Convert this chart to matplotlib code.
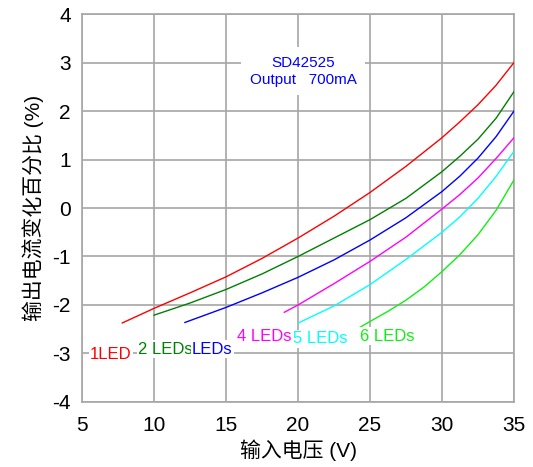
import matplotlib
matplotlib.use("Agg")
import matplotlib.pyplot as plt

plt.rcParams['font.family'] = ['Liberation Sans', 'Noto Sans CJK SC', 'DejaVu Sans']
plt.rcParams['axes.unicode_minus'] = False

# curves (input voltage V, output current change %)
x1 = [7.8, 10, 12.5, 15, 17.5, 20, 22.5, 25, 27.5, 30, 31.25, 32.5, 33.75, 35]
y1 = [-2.37, -2.07, -1.75, -1.42, -1.04, -0.62, -0.17, 0.32, 0.86, 1.45, 1.78, 2.13, 2.53, 3.0]

x2 = [10, 12.5, 15, 17.5, 20, 22.5, 25, 27.5, 30, 31.25, 32.5, 33.75, 35]
y2 = [-2.21, -1.96, -1.68, -1.36, -1.0, -0.62, -0.24, 0.2, 0.75, 1.07, 1.42, 1.85, 2.4]

x3 = [12.15, 15, 17.5, 20, 22.5, 25, 27.5, 30, 31.25, 32.5, 33.75, 35]
y3 = [-2.36, -2.05, -1.75, -1.43, -1.07, -0.66, -0.2, 0.34, 0.66, 1.03, 1.47, 2.0]

x4 = [19.05, 20, 22.5, 25, 27.5, 30, 31.25, 32.5, 33.75, 35]
y4 = [-2.15, -2.0, -1.56, -1.1, -0.6, -0.02, 0.28, 0.62, 1.02, 1.45]

x5 = [20.03, 22.5, 25, 27.5, 30, 31.25, 32.5, 33.75, 35]
y5 = [-2.37, -2.02, -1.58, -1.06, -0.5, -0.18, 0.2, 0.65, 1.17]

x6 = [24.3, 25, 26.25, 27.5, 28.75, 30, 31.25, 32.5, 33.75, 35]
y6 = [-2.46, -2.34, -2.13, -1.9, -1.63, -1.31, -0.96, -0.55, -0.05, 0.58]

colors = ['#ff0000', '#008000', '#0000ff', '#ff00ff', '#00ffff', '#11ee11']
labels = ['1LED', '2 LEDs', 'LEDs', '4 LEDs', '5 LEDs', '6 LEDs']
label_x = [5.55, 8.89, 12.64, 15.76, 19.65, 24.3]
label_y = [-3.02, -2.91, -2.91, -2.65, -2.70, -2.64]

xticks = [5, 10, 15, 20, 25, 30, 35]
yticks = [-4, -3, -2, -1, 0, 1, 2, 3, 4]

fig = plt.figure(figsize=(5.33, 4.67), dpi=100)
ax = fig.add_axes([0.1538, 0.1392, 0.8106, 0.8308])

gray = '#a6a6a6'
ax.set_xlim(5, 35)
ax.set_ylim(-4, 4)
ax.set_xticks(xticks)
ax.set_yticks(yticks)
ax.grid(True, color=gray, lw=1.2)
ax.set_axisbelow(True)
for s in ax.spines.values():
    s.set_color(gray)
    s.set_linewidth(1.2)
ax.tick_params(length=0, labelsize=15)
ax.tick_params(axis='x', pad=10)
ax.tick_params(axis='y', pad=8)

series = [(x1, y1), (x2, y2), (x3, y3), (x4, y4), (x5, y5), (x6, y6)]
for (xs, ys), c in zip(series, colors):
    ax.plot(xs, ys, color=c, lw=1.0, zorder=3)

for t, lx, ly, c in zip(labels, label_x, label_y, colors):
    ax.text(lx, ly, t, color=c, fontsize=12, ha='left', va='center', zorder=4,
            bbox=dict(facecolor='white', edgecolor='none', pad=1.0))

ax.text(20.35, 2.82, "SD42525\nOutput   700mA", color='#0000ff', fontsize=11,
        ha='center', va='center', linespacing=1.25, zorder=4,
        bbox=dict(facecolor='white', edgecolor='none', pad=6))

ax.set_xlabel("输入电压 (V)", fontsize=15, labelpad=3)
ax.set_ylabel("输出电流变化百分比 (%)", fontsize=15, labelpad=6)

fig.savefig("out.png", dpi=100)
